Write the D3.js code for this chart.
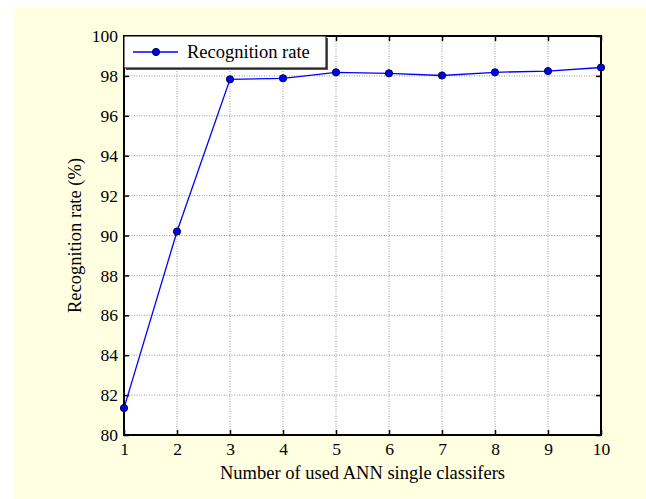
<!DOCTYPE html>
<html><head><meta charset="utf-8">
<script src="https://cdn.jsdelivr.net/npm/d3@7"></script>
<style>body{margin:0;background:#fff;} svg{display:block;}</style>
</head><body>
<svg id="c" width="646" height="499"></svg>
<script>
const classifiers = [1,2,3,4,5,6,7,8,9,10];
const recognitionRate = [81.35,90.2,97.83,97.88,98.18,98.13,98.02,98.18,98.24,98.42];
const yTicks = [80,82,84,86,88,90,92,94,96,98,100];
const xTicks = [1,2,3,4,5,6,7,8,9,10];
const seriesName = "Recognition rate";
const xLabel = "Number of used ANN single classifers";
const yLabel = "Recognition rate (%)";

const svg = d3.select("#c");
const font = "'Liberation Serif', 'Times New Roman', serif";
svg.append("rect").attr("x",13).attr("y",8).attr("width",633).attr("height",491).attr("fill","#ffffe2");

const L=124, R=601, T=36, B=435;
const x = d3.scaleLinear().domain([1,10]).range([L,R]);
const y = d3.scaleLinear().domain([80,100]).range([B,T]);

svg.append("rect").attr("x",L).attr("y",T).attr("width",R-L).attr("height",B-T).attr("fill","#fff");

// grid
const g = svg.append("g");
g.selectAll(".gx").data(xTicks.slice(1,-1)).join("line")
 .attr("x1",d=>x(d)).attr("x2",d=>x(d)).attr("y1",T).attr("y2",B)
 .attr("stroke","#999").attr("stroke-width",1).attr("stroke-dasharray","1,1.5");
g.selectAll(".gy").data(yTicks.slice(1,-1)).join("line")
 .attr("x1",L).attr("x2",R).attr("y1",d=>y(d)).attr("y2",d=>y(d))
 .attr("stroke","#999").attr("stroke-width",1).attr("stroke-dasharray","1,1.5");

// axes
const fmt = d=>String(d);
const ax = (gen, tr) => {
  const a = svg.append("g").attr("transform",tr).call(gen);
  a.attr("font-family",font).attr("font-size",17.5);
  a.select(".domain").remove();
  a.selectAll("line").attr("stroke","#000").attr("stroke-width",1.5);
  a.selectAll("text").attr("fill","#000");
  return a;
};
ax(d3.axisBottom(x).tickValues(xTicks).tickFormat(fmt).tickSize(-5).tickPadding(8), `translate(0,${B})`);
ax(d3.axisLeft(y).tickValues(yTicks).tickFormat(fmt).tickSize(-5).tickPadding(6), `translate(${L},0)`);
ax(d3.axisTop(x).tickValues(xTicks).tickFormat("").tickSize(-5), `translate(0,${T})`);
ax(d3.axisRight(y).tickValues(yTicks).tickFormat("").tickSize(-5), `translate(${R},0)`);

svg.append("rect").attr("x",L).attr("y",T).attr("width",R-L).attr("height",B-T)
 .attr("fill","none").attr("stroke","#000").attr("stroke-width",2);

// line
const data = classifiers.map((c,i)=>({c, v:recognitionRate[i]}));
svg.append("path").datum(data)
 .attr("d", d3.line().x(d=>x(d.c)).y(d=>y(d.v)))
 .attr("fill","none").attr("stroke","#0000ff").attr("stroke-width",1.3);
svg.selectAll(".pt").data(data).join("circle")
 .attr("cx",d=>x(d.c)).attr("cy",d=>y(d.v)).attr("r",3.6)
 .attr("fill","#0000ff").attr("stroke","#000033").attr("stroke-width",1);

// legend
const lg = svg.append("g");
lg.append("rect").attr("x",126).attr("y",38).attr("width",202).attr("height",32).attr("fill","#555");
lg.append("rect").attr("x",124).attr("y",36).attr("width",202).attr("height",32).attr("fill","#fff").attr("stroke","#000").attr("stroke-width",1);
lg.append("line").attr("x1",133).attr("x2",178).attr("y1",52).attr("y2",52).attr("stroke","#0000ff").attr("stroke-width",1.3);
lg.append("circle").attr("cx",156).attr("cy",52).attr("r",3.6).attr("fill","#0000ff").attr("stroke","#000033");
lg.append("text").attr("x",187).attr("y",58).attr("font-family",font).attr("font-size",18.5).text(seriesName);

// labels
svg.append("text").attr("x",(L+R)/2).attr("y",479).attr("text-anchor","middle")
 .attr("font-family",font).attr("font-size",18.5).text(xLabel);
svg.append("text").attr("transform",`translate(81,${(T+B)/2}) rotate(-90)`).attr("text-anchor","middle")
 .attr("font-family",font).attr("font-size",18.5).text(yLabel);
</script>
</body></html>
